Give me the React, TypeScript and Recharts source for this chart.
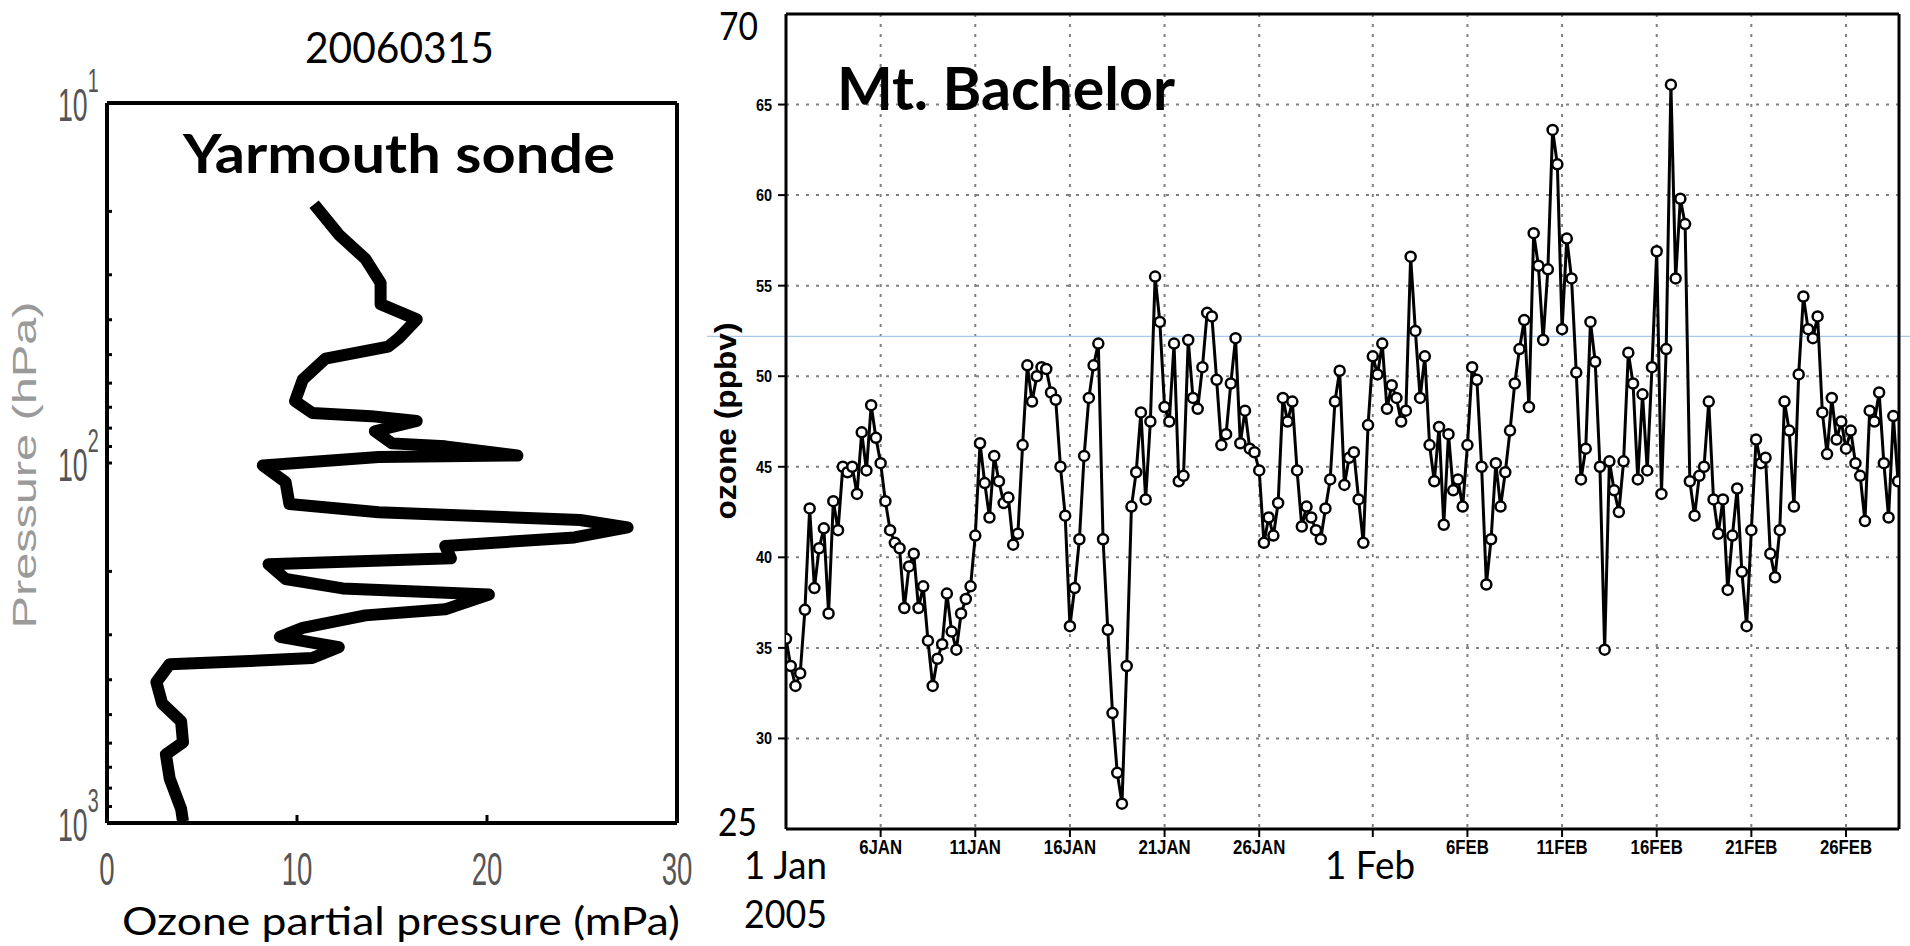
import { CartesianGrid, Line, LineChart, ReferenceLine, Scatter, ScatterChart, XAxis, YAxis } from "recharts";

// Yarmouth ozonesonde profile, 15 Mar 2006 (top of profile first)
const profileOzone = [
  10.9, 12.2, 13.6, 14.4, 14.4, 16.3, 15.4, 14.8, 11.5, 10.3, 9.9, 10.8, 13.9, 16.3, 14.1, 15.0,
  17.8, 21.6, 14.3, 8.2, 9.4, 9.6, 14.3, 24.9, 27.4, 24.6, 17.8, 18.1, 8.5, 9.4, 12.4, 20.1,
  17.8, 13.6, 10.3, 9.1, 12.2, 10.8, 7.5, 3.3, 2.6, 2.9, 3.9, 4.0, 3.1, 3.3, 3.9, 4.0,
];
const profilePressure = [
  19.1, 23.2, 27.1, 31.6, 36.2, 39.9, 44.8, 47.5, 51.3, 58.7, 67.3, 72.6, 74.1, 76.4, 81.6, 88.2,
  89.9, 95.3, 96.3, 101.6, 113, 130, 137, 144, 151, 161, 170, 184, 191, 210, 223, 232,
  255, 265, 287, 304, 325, 348, 355, 362, 406, 465, 522, 597, 645, 753, 914, 990,
];
const pressureTicks = [10, 20, 30, 40, 50, 60, 70, 80, 90, 100, 200, 300, 400, 500, 600, 700, 800, 900, 1000];
const partialTicks = [0, 10, 20, 30];

// Mt. Bachelor ozone (ppbv), 6-hourly from 1 Jan 2005
const SAMPLES_PER_DAY = 4;
const bachelorOzone = [
  35.5, 34.0, 32.9, 33.6, 37.1, 42.7, 38.3, 40.5, 41.6, 36.9, 43.1, 41.5, 45.0, 44.7, 45.0, 43.5,
  46.9, 44.8, 48.4, 46.6, 45.2, 43.1, 41.5, 40.8, 40.5, 37.2, 39.5, 40.2, 37.2, 38.4, 35.4, 32.9,
  34.4, 35.2, 38.0, 35.9, 34.9, 36.9, 37.7, 38.4, 41.2, 46.3, 44.1, 42.2, 45.6, 44.2, 43.0, 43.3,
  40.7, 41.3, 46.2, 50.6, 48.6, 50.0, 50.5, 50.4, 49.1, 48.7, 45.0, 42.3, 36.2, 38.3, 41.0, 45.6,
  48.8, 50.6, 51.8, 41.0, 36.0, 31.4, 28.1, 26.4, 34.0, 42.8, 44.7, 48.0, 43.2, 47.5, 55.5, 53.0,
  48.3, 47.5, 51.8, 44.2, 44.5, 52.0, 48.8, 48.2, 50.5, 53.5, 53.3, 49.8, 46.2, 46.8, 49.6, 52.1,
  46.3, 48.1, 46.0, 45.8, 44.8, 40.8, 42.2, 41.2, 43.0, 48.8, 47.5, 48.6, 44.8, 41.7, 42.8, 42.2,
  41.5, 41.0, 42.7, 44.3, 48.6, 50.3, 44.0, 45.5, 45.8, 43.2, 40.8, 47.3, 51.1, 50.1, 51.8, 48.2,
  49.5, 48.8, 47.5, 48.1, 56.6, 52.5, 48.8, 51.1, 46.2, 44.2, 47.2, 41.8, 46.8, 43.7, 44.3, 42.8,
  46.2, 50.5, 49.8, 45.0, 38.5, 41.0, 45.2, 42.8, 44.7, 47.0, 49.6, 51.5, 53.1, 48.3, 57.9, 56.1,
  52.0, 55.9, 63.6, 61.7, 52.6, 57.6, 55.4, 50.2, 44.3, 46.0, 53.0, 50.8, 45.0, 34.9, 45.3, 43.7,
  42.5, 45.3, 51.3, 49.6, 44.3, 49.0, 44.8, 50.5, 56.9, 43.5, 51.5, 66.1, 55.4, 59.8, 58.4, 44.2,
  42.3, 44.5, 45.0, 48.6, 43.2, 41.3, 43.2, 38.2, 41.2, 43.8, 39.2, 36.2, 41.5, 46.5, 45.2, 45.5,
  40.2, 38.9, 41.5, 48.6, 47.0, 42.8, 50.1, 54.4, 52.6, 52.1, 53.3, 48.0, 45.7, 48.8, 46.5, 47.5,
  46.0, 47.0, 45.2, 44.5, 42.0, 48.1, 47.5, 49.1, 45.2, 42.2, 47.8, 44.2,
];
const dateTicks = [5, 10, 15, 20, 25, 31, 36, 41, 46, 51, 56];
const dateLabels = ["6JAN", "11JAN", "16JAN", "21JAN", "26JAN", "", "6FEB", "11FEB", "16FEB", "21FEB", "26FEB"];
const ppbvTicks = [30, 35, 40, 45, 50, 55, 60, 65];
const markedLevel = 52.2;

const profileData = profileOzone.map((o, i) => ({ ozone: o, pressure: profilePressure[i] }));
const bachelorData = bachelorOzone.map((v, i) => ({ day: i / SAMPLES_PER_DAY, ozone: v }));

const ARIAL = "'Liberation Sans', Arial, sans-serif";
const CALIBRI = "Lato, 'Open Sans', sans-serif";

function PressureTick({ x, y, payload }: any) {
  const lg = Math.log10(payload.value);
  const exp = Math.round(lg);
  if (Math.abs(lg - exp) > 1e-6) return <g />;
  return (
    <text transform={`translate(${x - 42},${y + 18}) scale(0.58,1)`} fill="#555" fontFamily={ARIAL} fontSize={46}>
      10<tspan dy={-29} fontSize={34}>{exp}</tspan>
    </text>
  );
}

function PartialTick({ x, y, payload }: any) {
  return (
    <text transform={`translate(${x},${y + 62}) scale(0.6,1)`} fill="#555" fontFamily={ARIAL} fontSize={46}
      textAnchor="middle">{payload.value}</text>
  );
}

function DateTick({ x, y, payload }: any) {
  const label = dateLabels[dateTicks.indexOf(payload.value)];
  if (!label) return <g />;
  return (
    <text transform={`translate(${x},${y + 15}) scale(0.8,1)`} textAnchor="middle" fontFamily={ARIAL}
      fontWeight={700} fontSize={21} fill="#000">{label}</text>
  );
}

function PpbvTick({ x, y, payload }: any) {
  return (
    <text transform={`translate(${x},${y + 6}) scale(0.85,1)`} textAnchor="end" fontFamily={ARIAL}
      fontWeight={700} fontSize={17} fill="#000">{payload.value}</text>
  );
}

function WideLine(p: any) {
  return <line x1={p.x1 - 79} x2={p.x2 + 11} y1={p.y1} y2={p.y2} stroke="#a9c8ec" strokeWidth={1.2} />;
}

const frame = { stroke: "#000", strokeWidth: 4 };
const frameR = { stroke: "#000", strokeWidth: 3 };

export default function App() {
  return (
    <div style={{ position: "absolute", left: 0, top: 0, width: 1910, height: 946, background: "#fff" }}>
      <div style={{ position: "absolute", left: 0, top: 0 }}>
        <ScatterChart width={730} height={946} margin={{ top: 102, right: 52, bottom: 63, left: 0 }}>
          <XAxis type="number" dataKey="ozone" domain={[0, 30]} ticks={partialTicks} allowDataOverflow
            height={60} tickSize={-8} tickMargin={8} tick={PartialTick} axisLine={frame}
            tickLine={{ stroke: "#000", strokeWidth: 3 }} interval={0} />
          <XAxis xAxisId="top" orientation="top" type="number" domain={[0, 30]} height={1}
            tick={false} tickLine={false} axisLine={frame} />
          <YAxis type="number" dataKey="pressure" scale="log" domain={[10, 1000]} reversed allowDataOverflow
            ticks={pressureTicks} width={107} tickSize={-5} tickMargin={12} tick={PressureTick}
            axisLine={frame} tickLine={{ stroke: "#000", strokeWidth: 3 }} interval={0} />
          <YAxis yAxisId="right" orientation="right" type="number" scale="log" domain={[10, 1000]} reversed
            allowDataOverflow ticks={pressureTicks} width={1} tickSize={-5} tick={false}
            axisLine={frame} tickLine={{ stroke: "#000", strokeWidth: 3 }} interval={0} />
          <Scatter data={profileData} isAnimationActive={false} shape={() => <g />}
            line={{ stroke: "#000", strokeWidth: 12, strokeLinejoin: "round" }} />
        </ScatterChart>
      </div>

      <div style={{ position: "absolute", left: 690, top: 0 }}>
        <LineChart width={1220} height={946} data={bachelorData} margin={{ top: 13, right: 10, bottom: 77, left: 0 }}>
          <CartesianGrid stroke="#808080" strokeWidth={2} strokeDasharray="3 7" />
          <XAxis type="number" dataKey="day" domain={[0, 58.8]} allowDataOverflow ticks={dateTicks} interval={0}
            height={40} tickSize={8} tick={DateTick} axisLine={frameR} tickLine={{ stroke: "#000", strokeWidth: 2 }} />
          <XAxis xAxisId="top" orientation="top" type="number" domain={[0, 58.8]} height={1}
            tick={false} tickLine={false} axisLine={frameR} />
          <YAxis type="number" domain={[25, 70]} allowDataOverflow ticks={ppbvTicks} interval={0} width={96}
            tickSize={8} tickMargin={6} tick={PpbvTick} axisLine={frameR} tickLine={{ stroke: "#000", strokeWidth: 2 }} />
          <YAxis yAxisId="right" orientation="right" type="number" domain={[25, 70]} width={1}
            tick={false} tickLine={false} axisLine={frameR} />
          <ReferenceLine y={markedLevel} shape={WideLine} />
          <Line dataKey="ozone" type="linear" stroke="#000" strokeWidth={3} isAnimationActive={false}
            dot={{ r: 5, fill: "#fff", stroke: "#000", strokeWidth: 2.5 }} />
        </LineChart>
      </div>

      <svg width={1910} height={946} style={{ position: "absolute", left: 0, top: 0, pointerEvents: "none" }}>
        <g fontFamily={CALIBRI} fill="#000">
          <text x={305} y={63} fontSize={42} textLength={189} lengthAdjust="spacingAndGlyphs">20060315</text>
          <text x={183} y={173} fontSize={53} fontWeight={700} textLength={432} lengthAdjust="spacingAndGlyphs">Yarmouth sonde</text>
          <text x={122} y={935} fontSize={39} textLength={558} lengthAdjust="spacingAndGlyphs">Ozone partial pressure (mPa)</text>
          <text x={837} y={110} fontSize={59} fontWeight={700} textLength={338} lengthAdjust="spacingAndGlyphs">Mt. Bachelor</text>
          <text x={719} y={40} fontSize={38} textLength={39} lengthAdjust="spacingAndGlyphs">70</text>
          <text x={718} y={836} fontSize={38} textLength={39} lengthAdjust="spacingAndGlyphs">25</text>
          <text x={744} y={879} fontSize={38} textLength={83} lengthAdjust="spacingAndGlyphs">1 Jan</text>
          <text x={744} y={928} fontSize={38} textLength={83} lengthAdjust="spacingAndGlyphs">2005</text>
          <text x={1325} y={879} fontSize={38} textLength={90} lengthAdjust="spacingAndGlyphs">1 Feb</text>
        </g>
        <text transform="translate(36,465) rotate(-90)" textAnchor="middle" fontFamily={ARIAL} fontSize={34}
          fill="#9a9a9a" textLength={327} lengthAdjust="spacingAndGlyphs">Pressure (hPa)</text>
        <text transform="translate(736,421) rotate(-90)" textAnchor="middle" fontFamily={ARIAL} fontSize={30}
          fontWeight={700} fill="#000" textLength={197} lengthAdjust="spacingAndGlyphs">ozone (ppbv)</text>
      </svg>
    </div>
  );
}
